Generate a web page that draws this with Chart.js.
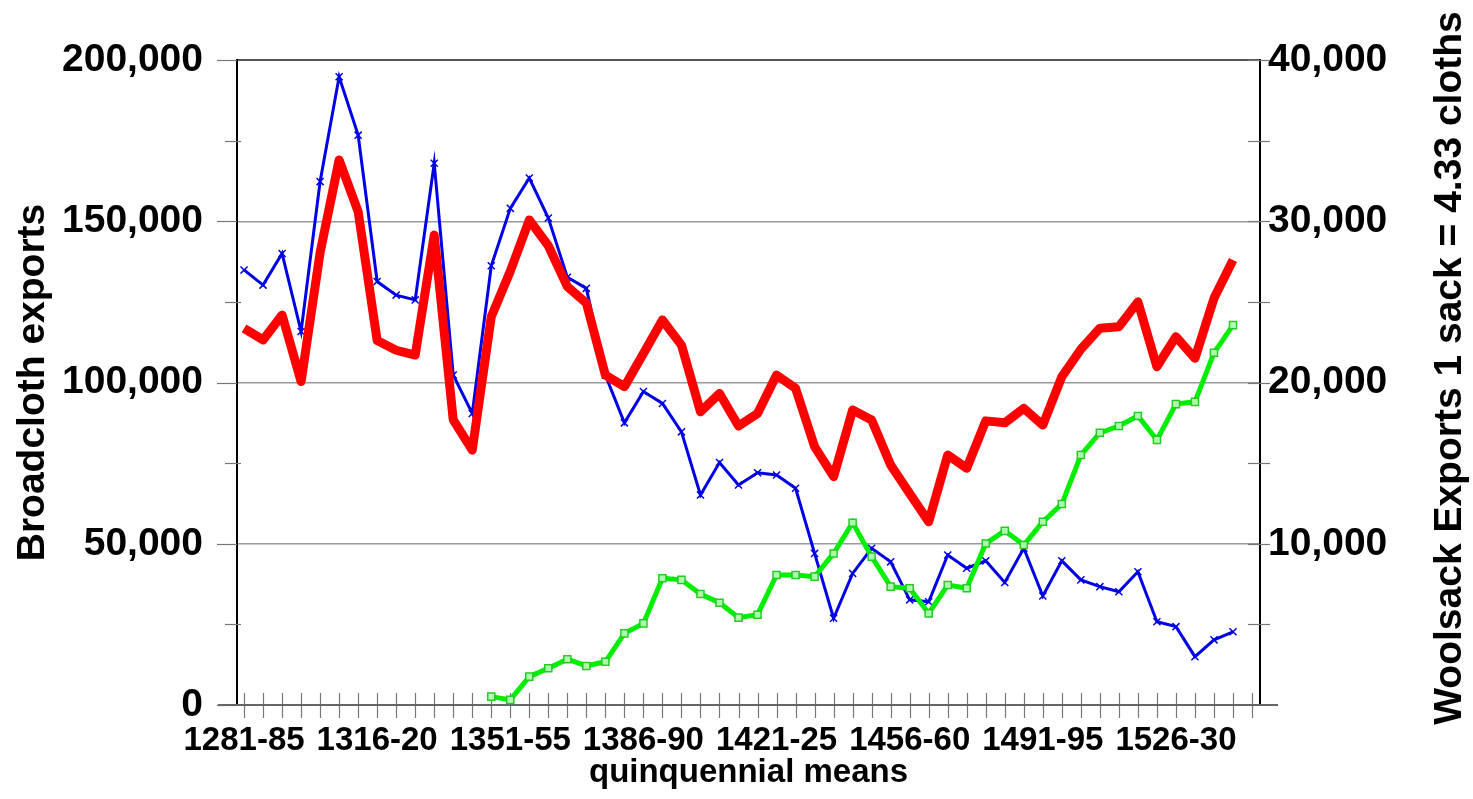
<!DOCTYPE html>
<html><head><meta charset="utf-8">
<script src="https://cdn.jsdelivr.net/npm/chart.js@4.4.0/dist/chart.umd.min.js"></script>
<style>html,body{margin:0;padding:0;background:#fff;overflow:hidden}canvas{display:block}</style>
</head><body>
<canvas id="c" width="1473" height="799"></canvas>
<script>
const categories = ["1281-85","1286-90","1291-95","1296-1300","1301-05","1306-10","1311-15","1316-20","1321-25","1326-30","1331-35","1336-40","1341-45","1346-50","1351-55","1356-60","1361-65","1366-70","1371-75","1376-80","1381-85","1386-90","1391-95","1396-1400","1401-05","1406-10","1411-15","1416-20","1421-25","1426-30","1431-35","1436-40","1441-45","1446-50","1451-55","1456-60","1461-65","1466-70","1471-75","1476-80","1481-85","1486-90","1491-95","1496-1500","1501-05","1506-10","1511-15","1516-20","1521-25","1526-30","1531-35","1536-40","1541-45"];
const xTickLabels = ["1281-85","1316-20","1351-55","1386-90","1421-25","1456-60","1491-95","1526-30"];
// woolsack exports (sacks, right axis)
const woolSacks = [26980,26040,28000,23160,32460,38960,35340,26260,25420,25120,33600,20460,18080,27240,30800,32680,30200,26520,25840,20460,17500,19440,18700,16940,13020,15040,13640,14400,14260,13440,9400,5380,8160,9720,8880,6520,6400,9300,8480,8940,7600,9720,6760,8940,7760,7340,7020,8260,5160,4860,3000,4040,4540];
// total exports in cloth equivalents (left axis)
const totalCloth = [116800,113200,120900,100300,140300,169000,153000,113000,110000,108500,145700,88400,79000,120400,134500,150400,142400,129700,124600,102300,98700,109000,119400,111600,90900,96600,86500,90400,102300,98200,80100,70800,91500,88400,74400,65600,56800,77500,73400,88100,87500,92000,86800,101800,110300,116800,117300,125000,104900,114200,107500,126100,138000];
// broadcloth exports (left axis)
const broadcloth = [null,null,null,null,null,null,null,null,null,null,null,null,null,2600,1600,8800,11400,14200,12100,13400,22200,25300,39300,38800,34400,31700,27100,28000,40300,40300,39800,47000,56500,46000,36700,36200,28400,37200,36200,50100,54000,49600,56800,62300,77500,84400,86500,89600,82200,93300,94000,109200,117800];
const leftTicks = [0,50000,100000,150000,200000];
const rightTicks = [10000,20000,30000,40000];

const pts = arr => arr.map((v,i)=>({x:i,y:v}));
const FONT = "'Liberation Sans', Arial, sans-serif";

const decor = {
  id:'decor',
  beforeDatasetsDraw(chart){
    const {ctx, chartArea:a, scales:{x,y,y1}} = chart;
    ctx.save();
    ctx.strokeStyle='#777'; ctx.lineWidth=1.2;
    // x tick marks crossing axis
    for(let i=0;i<=categories.length;i++){
      const px=Math.round(x.getPixelForValue(i))+0.5;
      ctx.beginPath(); ctx.moveTo(px,a.bottom-12); ctx.lineTo(px,a.bottom+13); ctx.stroke();
    }
    // left minor/major tick marks
    for(let v=0; v<=200000; v+=25000){
      const py=Math.round(y.getPixelForValue(v))+0.5;
      ctx.beginPath();
      if(v%50000===0){ctx.moveTo(a.left-20,py); ctx.lineTo(a.left,py);} else {ctx.moveTo(a.left-12,py); ctx.lineTo(a.left+4,py);}
      ctx.stroke();
    }
    for(let v=5000; v<=40000; v+=5000){
      const py=Math.round(y1.getPixelForValue(v))+0.5;
      ctx.beginPath(); ctx.moveTo(a.right-12,py); ctx.lineTo(a.right+10,py); ctx.stroke();
    }
    // x axis line
    ctx.strokeStyle='#666'; ctx.lineWidth=2;
    ctx.beginPath(); ctx.moveTo(a.left-19,a.bottom); ctx.lineTo(a.right+18,a.bottom); ctx.stroke();
    ctx.restore();
  },
  afterDraw(chart){
    const {ctx} = chart;
    ctx.save();
    ctx.translate(1450, 368);
    ctx.rotate(-Math.PI/2);
    ctx.font = "bold 39px "+FONT;
    ctx.fillStyle='#000'; ctx.textAlign='center'; ctx.textBaseline='middle';
    ctx.fillText('Woolsack Exports 1 sack = 4.33 cloths', 0, 0);
    ctx.restore();
  }
};

new Chart(document.getElementById('c'), {
  type:'line',
  data:{ datasets:[
    {label:'Total', data:pts(totalCloth), yAxisID:'y', borderColor:'#ff0000', backgroundColor:'#ff0000', borderWidth:9, pointRadius:0, tension:0, order:0, borderJoinStyle:'round'},
    {label:'Broadcloth', data:pts(broadcloth), yAxisID:'y', borderColor:'#00ee00', backgroundColor:'rgba(190,255,190,0.9)', borderWidth:5, pointStyle:'rect', pointRadius:5, pointBorderWidth:1.5, pointBorderColor:'#22cc22', tension:0, order:1},
    {label:'Wool', data:pts(woolSacks), yAxisID:'y1', borderColor:'#0000e6', backgroundColor:'#0000e6', borderWidth:3, pointStyle:'crossRot', pointRadius:5, pointBorderWidth:1.5, tension:0, order:2}
  ]},
  options:{
    responsive:false, animation:false, devicePixelRatio:1,
    layout:{padding:{top:60,left:0,right:0,bottom:0}},
    plugins:{legend:{display:false}, tooltip:{enabled:false}},
    scales:{
      x:{type:'linear', position:'bottom', min:-0.37, max:53.42,
        afterFit(s){s.height=94;},
        grid:{display:false, drawTicks:false}, border:{display:false},
        ticks:{stepSize:1, autoSkip:false, maxRotation:0, minRotation:0, includeBounds:false, padding:16,
          color:'#000', font:{family:FONT, size:33, weight:'bold'},
          callback:(v)=>{const i=Math.round(v); return (Math.abs(v-i)<1e-6 && xTickLabels.includes(categories[i]))?categories[i]:'';}},
        title:{display:true, text:'quinquennial means', color:'#000', font:{family:FONT,size:33,weight:'bold'}, padding:{top:0,bottom:6}}
      },
      y:{position:'left', min:0, max:200000,
        afterFit(s){s.width=237;},
        afterBuildTicks(s){s.ticks=leftTicks.map(v=>({value:v}));},
        grid:{drawTicks:false, color:(c)=>c.tick && c.tick.value===200000?'#555':'#999', lineWidth:(c)=>c.tick && c.tick.value===200000?2:1.5},
        border:{display:true, color:'#000', width:2},
        ticks:{padding:34, color:'#000', font:{family:FONT,size:39,weight:'bold'}, callback:(v)=>v.toLocaleString('en-US')},
        title:{display:true, text:'Broadcloth exports', color:'#000', font:{family:FONT,size:39,weight:'bold'}, padding:{top:10,bottom:0}}
      },
      y1:{position:'right', min:0, max:40000,
        afterFit(s){s.width=213;},
        afterBuildTicks(s){s.ticks=rightTicks.map(v=>({value:v}));},
        grid:{drawOnChartArea:false, drawTicks:false},
        border:{display:true, color:'#000', width:2},
        ticks:{padding:8, color:'#000', font:{family:FONT,size:39,weight:'bold'}, callback:(v)=>v.toLocaleString('en-US')}
      }
    }
  },
  plugins:[decor]
});
</script>
</body></html>
